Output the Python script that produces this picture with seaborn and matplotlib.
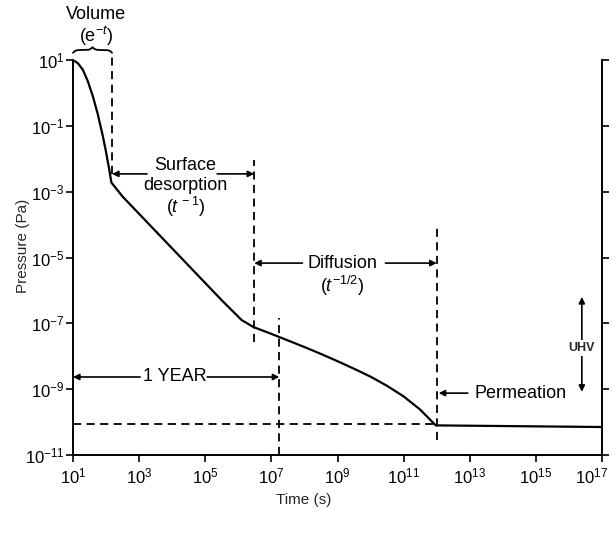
import numpy as np
import pandas as pd
import seaborn as sns
import matplotlib.pyplot as plt
from matplotlib.transforms import ScaledTranslation

# pump-down curve, values (log10 of s and Pa)
volume_logt = [1.0, 1.15, 1.3, 1.45, 1.6, 1.75, 1.9, 2.0, 2.1, 2.16]
volume_logp = [1.0, 0.9, 0.7, 0.35, -0.1, -0.65, -1.3, -1.8, -2.35, -2.72]
surface_logt = [2.16, 2.5, 3.5, 4.5, 5.5, 6.1, 6.45]
surface_logp = [-2.72, -3.15, -4.2, -5.25, -6.3, -6.9, -7.11]
diffusion_logt = [6.45, 7.0, 7.5, 8.0, 8.5, 9.0, 9.5, 10.0, 10.5, 11.0, 11.5, 11.97]
diffusion_logp = [-7.11, -7.32, -7.52, -7.72, -7.93, -8.15, -8.38, -8.62, -8.9, -9.22, -9.62, -10.1]
permeation_logt = [11.97, 17.0]
permeation_logp = [-10.1, -10.15]

# phase boundaries / reference levels
bound_volume = 2.18
bound_surface = 6.48
one_year = 7.24
bound_diffusion = 12.0
floor_logp = -10.05

xtick_exp = list(range(1, 18, 2))
ytick_exp = list(range(-11, 2, 2))

sns.set_theme(style="ticks")
plt.rcParams["font.family"] = ["Liberation Sans", "DejaVu Sans"]
plt.rcParams["mathtext.fontset"] = "custom"
plt.rcParams["mathtext.rm"] = "Liberation Sans"
plt.rcParams["mathtext.it"] = "Liberation Sans:italic"

frames = []
for name, lt, lp in [("volume", volume_logt, volume_logp),
                     ("surface", surface_logt, surface_logp),
                     ("diffusion", diffusion_logt, diffusion_logp),
                     ("permeation", permeation_logt, permeation_logp)]:
    frames.append(pd.DataFrame({"phase": name,
                                "time": np.power(10.0, lt),
                                "pressure": np.power(10.0, lp)}))
data = pd.concat(frames, ignore_index=True)

fig = plt.figure(figsize=(6.16, 5.38), dpi=100)
ax = fig.add_axes([73 / 616, 1 - 455 / 538, 529 / 616, 395 / 538])

sns.lineplot(data=data, x="time", y="pressure", sort=False, estimator=None,
             color="black", linewidth=1.6, ax=ax)
ax.set_xscale("log")
ax.set_yscale("log")
ax.set_xlim(1e1, 1e17)
ax.set_ylim(1e-11, 1e1)
ax.set_xticks([10.0 ** k for k in xtick_exp])
ax.set_yticks([10.0 ** k for k in ytick_exp])
ax.minorticks_off()

for s in ["left", "bottom", "right"]:
    ax.spines[s].set_linewidth(1.4)
    ax.spines[s].set_color("black")
ax.spines["top"].set_visible(False)
ax.tick_params(direction="out", length=5, width=1.2, colors="black",
               labelsize=12, right=True, labelright=False)
ax.tick_params(axis="y", pad=1)
ax.tick_params(axis="x", pad=3)

# last x label sits tight against the figure edge
fig.canvas.draw()
last = ax.get_xticklabels()[-1]
last.set_transform(last.get_transform() + ScaledTranslation(-10 / 100, 0, fig.dpi_scale_trans))

ax.set_xlabel("Time (s)", fontsize=11)
ax.set_ylabel("Pressure (Pa)", fontsize=11)
ax.xaxis.set_label_coords(0.436, -0.097)
ax.yaxis.set_label_coords(-0.082, 0.53)

# dashed phase boundaries
dash = (0, (4.5, 3))
vkw = dict(colors="black", linestyles=dash, linewidth=1.3)
ax.vlines(10 ** bound_volume, 10 ** -2.45, 10 ** 1.21, clip_on=False, **vkw)
ax.vlines(10 ** bound_surface, 10 ** -7.57, 10 ** -2.04, **vkw)
ax.vlines(10 ** one_year, 1e-11, 10 ** -6.84, **vkw)
ax.vlines(10 ** bound_diffusion, 10 ** -10.54, 10 ** -4.1, **vkw)
ax.hlines(10 ** floor_logp, 1e1, 10 ** bound_diffusion, **vkw)

akw = dict(arrowstyle="-|>", color="black", lw=1.2, mutation_scale=9,
           shrinkA=0, shrinkB=0)


def arrow(x0, x1, y):
    # arrow from (x0, y) pointing to (x1, y), log10 coords
    ax.annotate("", xy=(10 ** x1, 10 ** y), xytext=(10 ** x0, 10 ** y),
                arrowprops=akw)


tkw = dict(ha="center", va="center", fontsize=13, color="black")

# surface desorption
arrow(3.24, bound_volume, -2.46)
arrow(5.36, bound_surface, -2.46)
ax.text(10 ** 4.4, 10 ** -2.19, "Surface", **tkw)
ax.text(10 ** 4.4, 10 ** -2.8, "desorption", **tkw)
ax.text(10 ** 4.4, 10 ** -3.47, "($t^{\\,-1}$)", **tkw)

# diffusion
arrow(7.94, bound_surface, -5.17)
arrow(10.45, bound_diffusion, -5.17)
ax.text(10 ** 9.15, 10 ** -5.17, "Diffusion", **tkw)
ax.text(10 ** 9.15, 10 ** -5.85, "($t^{-1/2}$)", **tkw)

# 1 year
arrow(3.03, 1.0, -8.63)
arrow(5.06, one_year, -8.63)
ax.text(10 ** 4.08, 10 ** -8.63, "1 YEAR", **tkw)

# permeation
arrow(12.94, 12.06, -9.12)
ax.text(10 ** 14.55, 10 ** -9.12, "Permeation", **tkw)

# UHV range
ax.annotate("", xy=(10 ** 16.39, 10 ** -6.2), xytext=(10 ** 16.39, 10 ** -9.08),
            arrowprops=dict(akw, arrowstyle="<|-|>"))
ax.text(10 ** 16.39, 10 ** -7.75, "UHV", ha="center", va="center", fontsize=9,
        fontweight="bold", zorder=5,
        bbox=dict(facecolor="white", edgecolor="none", pad=1.5))

# volume label with curly brace
ax.text(10 ** 1.7, 10 ** 2.37, "Volume", **tkw)
ax.text(10 ** 1.7, 10 ** 1.72, "(e$^{-t}$)", **tkw)

bx0, bx1 = 0.0, (bound_volume - 1) / 16
by, bh = (1.22 + 11) / 12, 0.014
half = np.linspace(0, 0.5, 101)
beta = 28
yh = 1 / (1 + np.exp(-beta * (half - half[0]))) + 1 / (1 + np.exp(-beta * (half - half[-1])))
ys = np.concatenate([yh, yh[-2::-1]]) - 0.5
xs = np.linspace(bx0, bx1, len(ys))
ax.plot(xs, by + ys * bh, color="black", lw=1.3, transform=ax.transAxes, clip_on=False)

plt.savefig("out.png", dpi=100)
